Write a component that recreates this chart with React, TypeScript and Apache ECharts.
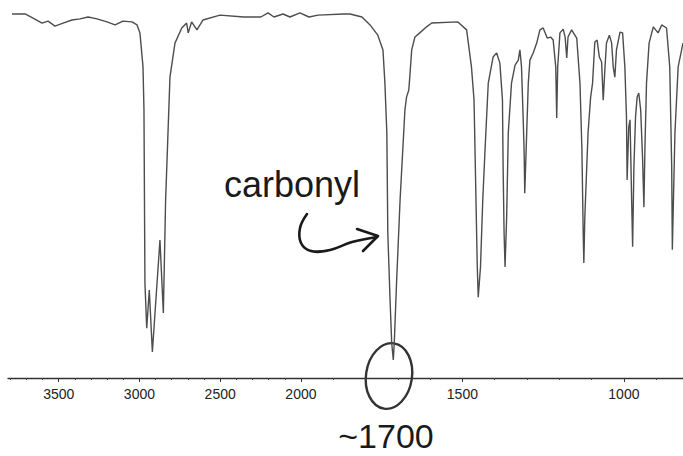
import React, { useEffect, useRef } from "react";
import * as echarts from "echarts";

// IR spectrum: wavenumber (cm-1) and transmittance (%)
const WAVENUMBERS = [
  3789, 3708, 3659, 3603, 3566, 3523, 3473, 3418, 3368, 3318, 3263, 3201, 3151, 3102, 3046, 3015,
  2997, 2978, 2972, 2966, 2955, 2939, 2920, 2873, 2852, 2838, 2811, 2780, 2738, 2708, 2698, 2677,
  2644, 2607, 2501, 2353, 2248, 2204, 2167, 2111, 2068, 2006, 1975, 1947, 1867, 1848, 1811, 1786,
  1762, 1746, 1740, 1734, 1731, 1724, 1719, 1714, 1711, 1704, 1693, 1678, 1673, 1666, 1663, 1657,
  1647, 1632, 1611, 1595, 1514, 1487, 1472, 1464, 1461, 1458, 1454, 1451, 1444, 1437, 1430, 1420,
  1405, 1394, 1384, 1376, 1374, 1371, 1368, 1363, 1358, 1348, 1337, 1327, 1322, 1317, 1312, 1309,
  1307, 1301, 1296, 1291, 1281, 1270, 1260, 1250, 1237, 1227, 1219, 1211, 1208, 1205, 1198, 1188,
  1182, 1177, 1173, 1162, 1146, 1136, 1130, 1126, 1124, 1121, 1111, 1103, 1097, 1090, 1083, 1076,
  1069, 1064, 1059, 1054, 1045, 1038, 1033, 1028, 1023, 1012, 1004, 997, 992, 990, 985, 981,
  976, 973, 969, 964, 959, 954, 948, 942, 938, 935, 930, 922, 909, 894, 883, 868,
  858, 852, 850, 842, 832, 817,
];
const TRANSMITTANCE = [
  96.3, 96.3, 95.2, 93.9, 94.4, 93.1, 93.9, 94.7, 95.0, 95.5, 95.0, 94.2, 93.4, 94.4, 94.2, 93.4,
  91.3, 82.3, 70.9, 25.1, 13.2, 23.3, 6.9, 36.5, 17.2, 47.1, 79.6, 88.6, 92.6, 93.9, 91.3, 94.2,
  92.1, 94.7, 96.0, 95.5, 95.5, 96.6, 95.5, 96.3, 95.5, 96.6, 95.5, 96.0, 96.3, 96.3, 95.5, 93.4,
  90.7, 86.8, 78.0, 64.8, 38.4, 20.6, 9.3, 4.8, 9.3, 25.1, 47.1, 70.9, 74.3, 76.2, 79.6, 86.8,
  90.2, 91.3, 92.9, 93.9, 94.2, 92.1, 82.3, 73.5, 60.3, 47.1, 29.4, 21.4, 29.4, 47.1, 60.3, 78.0,
  84.9, 86.0, 83.3, 73.5, 55.8, 38.4, 29.4, 42.6, 64.8, 78.0, 82.8, 84.1, 86.8, 82.3, 69.0, 60.3,
  48.9, 64.8, 78.0, 84.1, 86.0, 88.6, 92.1, 92.6, 89.9, 90.2, 89.4, 82.3, 68.8, 82.3, 91.3, 92.3,
  90.2, 84.7, 90.2, 92.1, 89.9, 78.0, 60.3, 38.4, 30.4, 42.6, 64.8, 74.3, 78.0, 88.9, 89.4, 84.9,
  83.6, 73.5, 81.5, 88.6, 90.7, 88.6, 82.3, 79.6, 86.8, 91.5, 91.3, 82.3, 69.0, 52.4, 66.4, 68.3,
  47.1, 34.7, 55.8, 69.0, 74.3, 75.4, 70.9, 57.7, 45.2, 60.3, 78.0, 88.6, 92.9, 91.3, 93.4, 92.6,
  82.3, 55.8, 33.9, 64.8, 82.3, 88.6,
];

const MAJOR_TICKS = [3500, 3000, 2500, 2000, 1500, 1000];
const MINOR_TICKS = [
  3800, 3700, 3600, 3400, 3300, 3200, 3100, 2900, 2800, 2700, 2600, 2400, 2300, 2200, 2100,
  1900, 1800, 1700, 1600, 1400, 1300, 1200, 1100, 900,
];
const AXIS_LOW = 817;
const AXIS_HIGH = 3814;

// the scale is compressed twofold above 2000 cm-1
const toPos = (w: number) => (w > 2000 ? 2000 + (w - 2000) / 2 : w);
const fromPos = (p: number) => (p > 2000 ? 2000 + (p - 2000) * 2 : p);

export default function App() {
  const ref = useRef<HTMLDivElement>(null);
  useEffect(() => {
    if (!ref.current) return;
    const chart = echarts.init(ref.current, undefined, { renderer: "svg" });
    const data = WAVENUMBERS.map((w, i) => [toPos(w), TRANSMITTANCE[i]]);
    const ink = "#1a1a1a";
    chart.setOption({
      animation: false,
      backgroundColor: "#ffffff",
      grid: { left: 8, right: 0, top: 0, bottom: 78, containLabel: false },
      xAxis: [
        {
          type: "value",
          min: toPos(AXIS_LOW),
          max: toPos(AXIS_HIGH),
          inverse: true,
          position: "bottom",
          splitLine: { show: false },
          axisLine: { show: true, lineStyle: { color: "#333", width: 1.3 } },
          axisTick: {
            show: true,
            customValues: MAJOR_TICKS.map(toPos),
            length: 4,
            lineStyle: { color: "#333", width: 1 },
          },
          axisLabel: {
            show: true,
            customValues: MAJOR_TICKS.map(toPos),
            formatter: (v: number) => String(Math.round(fromPos(v))),
            fontSize: 14,
            color: "#222",
            margin: 9,
            fontFamily: "Liberation Sans, Arial, sans-serif",
          },
        },
        {
          type: "value",
          min: toPos(AXIS_LOW),
          max: toPos(AXIS_HIGH),
          inverse: true,
          position: "bottom",
          offset: 0,
          splitLine: { show: false },
          axisLine: { show: false },
          axisTick: {
            show: true,
            customValues: MINOR_TICKS.map(toPos),
            length: 2,
            lineStyle: { color: "#444", width: 1 },
          },
          axisLabel: { show: false },
        },
      ],
      yAxis: { type: "value", min: 0, max: 100, show: false },
      series: [
        {
          type: "line",
          xAxisIndex: 0,
          data,
          showSymbol: false,
          symbol: "none",
          lineStyle: { color: "#4d4d4d", width: 1.4 },
        },
      ],
      graphic: [
        {
          type: "text",
          x: 224,
          y: 184,
          style: {
            text: "carbonyl",
            fontSize: 36,
            fontFamily: "Liberation Sans, Arial, sans-serif",
            fill: ink,
            verticalAlign: "middle",
            align: "left",
          },
        },
        {
          type: "polyline",
          shape: {
            points: [
              [307, 214],
              [300, 228],
              [301, 243],
              [311, 251],
              [330, 250],
              [352, 242],
              [377, 237],
            ],
            smooth: 0.4,
          },
          style: { stroke: ink, lineWidth: 2.6, fill: "none", lineCap: "round", lineJoin: "round" },
        },
        {
          type: "polyline",
          shape: { points: [[357, 229], [378, 236], [363, 251]] },
          style: { stroke: ink, lineWidth: 2.6, fill: "none", lineCap: "round", lineJoin: "round" },
        },
        {
          type: "ellipse",
          x: 389,
          y: 376,
          rotation: -0.15,
          shape: { cx: 0, cy: 0, rx: 23, ry: 33 },
          style: { stroke: "#333", lineWidth: 2.4, fill: "none" },
        },
        {
          type: "text",
          x: 386,
          y: 436,
          style: {
            text: "~1700",
            fontSize: 34,
            fontFamily: "Liberation Sans, Arial, sans-serif",
            fill: ink,
            verticalAlign: "middle",
            align: "center",
          },
        },
      ],
    });
    return () => chart.dispose();
  }, []);
  return (
    <div
      ref={ref}
      style={{ position: "fixed", left: 0, top: 0, width: 683, height: 456, background: "#fff" }}
    />
  );
}
